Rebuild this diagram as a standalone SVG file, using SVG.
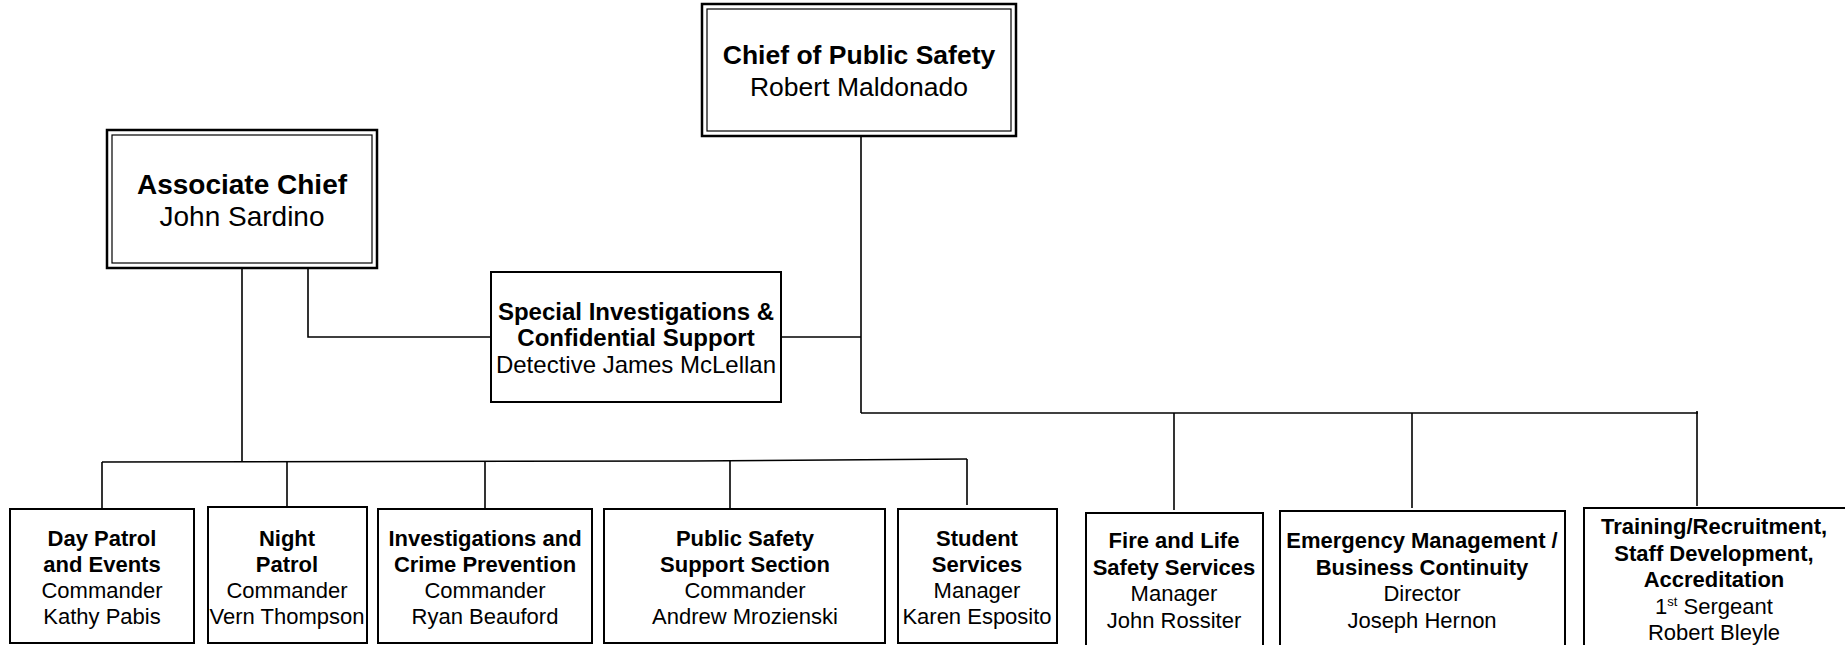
<svg xmlns="http://www.w3.org/2000/svg" width="1845" height="645" viewBox="0 0 1845 645">
<style>
.bx{fill:#fff;stroke:#000;stroke-width:2}
.dbo{fill:#fff;stroke:#000;stroke-width:2.5}
.dbi{fill:none;stroke:#000;stroke-width:1.2}
.ln{stroke:#000;stroke-width:1.6;fill:none}
text{font-family:"Liberation Sans",Arial,sans-serif;fill:#000;text-anchor:middle}
.b{font-weight:bold}
.s22{font-size:22px}
.s23{font-size:23px}
</style>
<rect width="1845" height="645" fill="#fff"/>
<g id="connectors">
<path class="ln" d="M861 136 V413"/>
<path class="ln" d="M861 413 H1698"/>
<path class="ln" d="M1174 413 V510"/>
<path class="ln" d="M1412 413 V508"/>
<path class="ln" d="M1697 411 V506"/>
<path class="ln" d="M781 337 H861"/>
<path class="ln" d="M308 268 V337 H491"/>
<path class="ln" d="M242 268 V461"/>
<path class="ln" d="M102 462 L693 461 L967 459"/>
<path class="ln" d="M102 462 V508"/>
<path class="ln" d="M287 462 V507"/>
<path class="ln" d="M485 461 V508"/>
<path class="ln" d="M730 460 V508"/>
<path class="ln" d="M967 459 V505"/>
</g>
<g id="chief">
<rect class="dbo" x="702" y="4" width="314" height="132"/>
<rect class="dbi" x="707" y="9" width="304" height="122"/>
<text class="b" x="859" y="64" font-size="26.5">Chief of Public Safety</text>
<text x="859" y="96" font-size="26.5">Robert Maldonado</text>
</g>
<g id="associate">
<rect class="dbo" x="107" y="130" width="270" height="138"/>
<rect class="dbi" x="112" y="135" width="260" height="128"/>
<text class="b" x="242" y="194" font-size="28">Associate Chief</text>
<text x="242" y="226" font-size="28">John Sardino</text>
</g>
<g id="special">
<rect class="bx" x="491" y="272" width="290" height="130"/>
<text class="b" x="636" y="320" font-size="24">Special Investigations &amp;</text>
<text class="b" x="636" y="346" font-size="24">Confidential Support</text>
<text x="636" y="373" font-size="24">Detective James McLellan</text>
</g>
<g id="day-patrol">
<rect class="bx" x="10" y="509" width="184" height="134"/>
<text class="b s22" x="102" y="546">Day Patrol</text>
<text class="b s22" x="102" y="572">and Events</text>
<text class="s22" x="102" y="598">Commander</text>
<text class="s22" x="102" y="624">Kathy Pabis</text>
</g>
<g id="night-patrol">
<rect class="bx" x="208" y="507" width="159" height="136"/>
<text class="b s22" x="287" y="546">Night</text>
<text class="b s22" x="287" y="572">Patrol</text>
<text class="s22" x="287" y="598">Commander</text>
<text class="s22" x="287" y="624">Vern Thompson</text>
</g>
<g id="investigations">
<rect class="bx" x="378" y="509" width="214" height="134"/>
<text class="b s22" x="485" y="546">Investigations and</text>
<text class="b s22" x="485" y="572">Crime Prevention</text>
<text class="s22" x="485" y="598">Commander</text>
<text class="s22" x="485" y="624">Ryan Beauford</text>
</g>
<g id="support-section">
<rect class="bx" x="604" y="509" width="281" height="134"/>
<text class="b s22" x="745" y="546">Public Safety</text>
<text class="b s22" x="745" y="572">Support Section</text>
<text class="s22" x="745" y="598">Commander</text>
<text class="s22" x="745" y="624">Andrew Mrozienski</text>
</g>
<g id="student-services">
<rect class="bx" x="898" y="509" width="159" height="134"/>
<text class="b s22" x="977" y="546">Student</text>
<text class="b s22" x="977" y="572">Services</text>
<text class="s22" x="977" y="598">Manager</text>
<text class="s22" x="977" y="624">Karen Esposito</text>
</g>
<g id="fire-life">
<rect class="bx" x="1086" y="513" width="177" height="134"/>
<text class="b s22" x="1174" y="548">Fire and Life</text>
<text class="b s22" x="1174" y="575">Safety Services</text>
<text class="s22" x="1174" y="601">Manager</text>
<text class="s22" x="1174" y="628">John Rossiter</text>
</g>
<g id="emergency">
<rect class="bx" x="1280" y="511" width="285" height="136"/>
<text class="b s22" x="1422" y="548">Emergency Management /</text>
<text class="b s22" x="1422" y="575">Business Continuity</text>
<text class="s22" x="1422" y="601">Director</text>
<text class="s22" x="1422" y="628">Joseph Hernon</text>
</g>
<g id="training">
<rect class="bx" x="1584" y="508" width="264" height="139"/>
<text class="b s22" x="1714" y="534">Training/Recruitment,</text>
<text class="b s22" x="1714" y="561">Staff Development,</text>
<text class="b s22" x="1714" y="587">Accreditation</text>
<text class="s22" x="1714" y="614">1<tspan font-size="13" dy="-8">st</tspan><tspan dy="8"> Sergeant</tspan></text>
<text class="s22" x="1714" y="640">Robert Bleyle</text>
</g>
</svg>
